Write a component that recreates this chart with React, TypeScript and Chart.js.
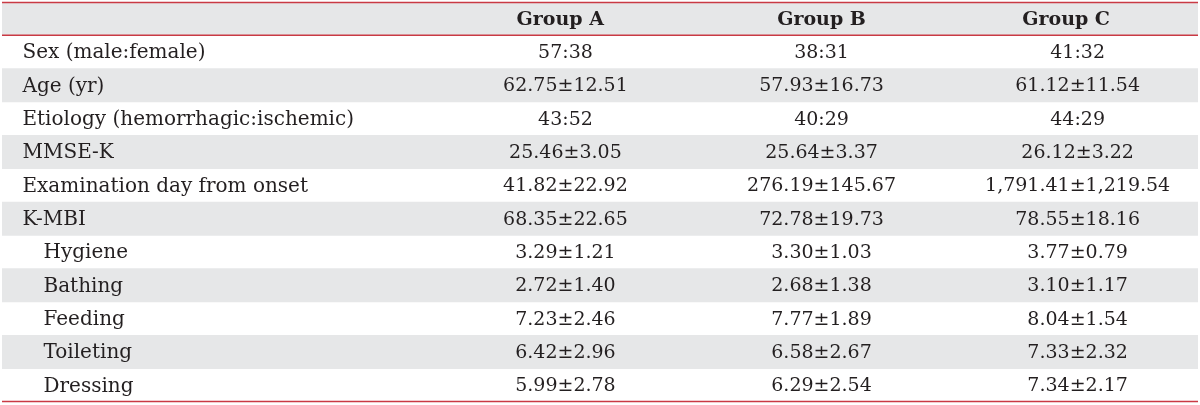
import React, { useEffect, useRef } from "react";
import { Chart, registerables } from "chart.js";

Chart.register(...registerables);

const HEADER_LABELS = ["Group A", "Group B", "Group C"];
const ROW_LABELS = [
  "Sex (male:female)",
  "Age (yr)",
  "Etiology (hemorrhagic:ischemic)",
  "MMSE-K",
  "Examination day from onset",
  "K-MBI",
  "Hygiene",
  "Bathing",
  "Feeding",
  "Toileting",
  "Dressing",
];
const ROW_INDENT = [0, 0, 0, 0, 0, 0, 1, 1, 1, 1, 1];
const GROUP_A = ["57:38", "62.75±12.51", "43:52", "25.46±3.05", "41.82±22.92", "68.35±22.65", "3.29±1.21", "2.72±1.40", "7.23±2.46", "6.42±2.96", "5.99±2.78"];
const GROUP_B = ["38:31", "57.93±16.73", "40:29", "25.64±3.37", "276.19±145.67", "72.78±19.73", "3.30±1.03", "2.68±1.38", "7.77±1.89", "6.58±2.67", "6.29±2.54"];
const GROUP_C = ["41:32", "61.12±11.54", "44:29", "26.12±3.22", "1,791.41±1,219.54", "78.55±18.16", "3.77±0.79", "3.10±1.17", "8.04±1.54", "7.33±2.32", "7.34±2.17"];

// column positions on the (hidden) linear x scale
const X_MIN = -1.2;
const X_MAX = 3.47;
const LABEL_X = -1.12;
const GROUP_X = [1, 2, 3];
const HEADER_X = [0.98, 2, 2.955];

const FONT_FAMILY = '"DejaVu Serif", serif';
const TEXT_COLOR = "#231f20";
const STRIPE_COLOR = "#e6e7e8";
const RULE_COLOR = "#c93a44";

export default function App() {
  const canvasRef = useRef<HTMLCanvasElement | null>(null);

  useEffect(() => {
    const canvas = canvasRef.current;
    if (!canvas) return;
    const yLabels = ["__header__", ...ROW_LABELS];
    const columns = [GROUP_A, GROUP_B, GROUP_C];

    const tablePlugin = {
      id: "tableText",
      afterDatasetsDraw(chart: any) {
        const ctx = chart.ctx;
        const xs = chart.scales.x;
        const ys = chart.scales.y;
        const area = chart.chartArea;
        const band = ys.getPixelForValue(1) - ys.getPixelForValue(0);
        ctx.save();
        // rules
        ctx.strokeStyle = RULE_COLOR;
        ctx.lineWidth = 1.5;
        const headerBottom = ys.getPixelForValue(0) + band / 2;
        [area.top + 0.5, headerBottom, area.bottom - 0.5].forEach((yy) => {
          ctx.beginPath();
          ctx.moveTo(area.left, yy);
          ctx.lineTo(area.right, yy);
          ctx.stroke();
        });
        ctx.fillStyle = TEXT_COLOR;
        ctx.textBaseline = "middle";
        // header
        ctx.font = `bold 19px ${FONT_FAMILY}`;
        ctx.textAlign = "center";
        const hy = ys.getPixelForValue(0) + 1;
        HEADER_X.forEach((gx, i) => {
          ctx.fillText(HEADER_LABELS[i], xs.getPixelForValue(gx), hy);
        });
        // rows
        ROW_LABELS.forEach((label, r) => {
          const yy = ys.getPixelForValue(r + 1) + 1;
          ctx.font = `20px ${FONT_FAMILY}`;
          ctx.textAlign = "left";
          ctx.fillText(label, xs.getPixelForValue(LABEL_X) + ROW_INDENT[r] * 21, yy);
          ctx.font = `19px ${FONT_FAMILY}`;
          ctx.textAlign = "center";
          columns.forEach((col, c) => {
            ctx.fillText(col[r], xs.getPixelForValue(GROUP_X[c]), yy);
          });
        });
        ctx.restore();
      },
    };

    const chart = new Chart(canvas, {
      type: "bar",
      data: {
        labels: yLabels,
        datasets: [
          {
            label: "stripes",
            data: yLabels.map(() => [X_MIN, X_MAX]) as any,
            backgroundColor: yLabels.map((_, i) => (i % 2 === 0 ? STRIPE_COLOR : "rgba(0,0,0,0)")),
            borderWidth: 0,
            barPercentage: 1,
            categoryPercentage: 1,
          },
        ],
      },
      options: {
        indexAxis: "y",
        responsive: false,
        animation: false,
        layout: { padding: { left: 2, right: 2, top: 2, bottom: 3 } },
        plugins: { legend: { display: false }, tooltip: { enabled: false } },
        scales: {
          x: { type: "linear", min: X_MIN, max: X_MAX, display: false },
          y: { type: "category", display: false, offset: true },
        },
      },
      plugins: [tablePlugin],
    } as any);

    return () => chart.destroy();
  }, []);

  return (
    <div style={{ position: "absolute", left: 0, top: 0, width: 1200, height: 405, background: "#ffffff" }}>
      <canvas ref={canvasRef} width={1200} height={405} />
    </div>
  );
}
